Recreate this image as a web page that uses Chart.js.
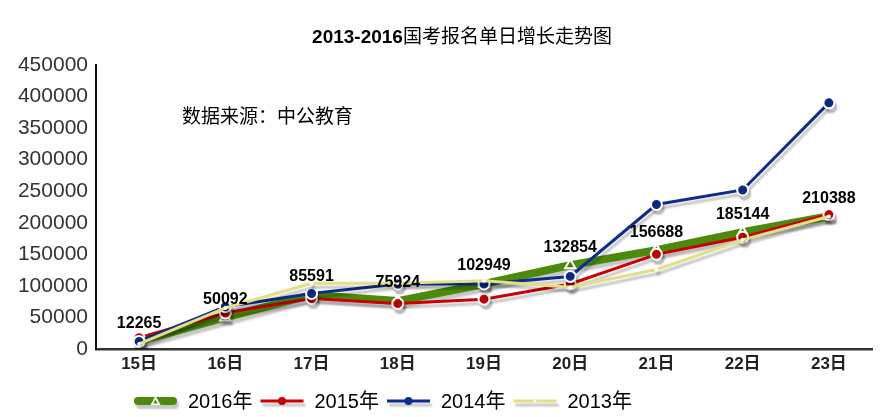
<!DOCTYPE html>
<html>
<head>
<meta charset="utf-8">
<script src="https://cdn.jsdelivr.net/npm/chart.js@4/dist/chart.umd.min.js"></script>
<style>
  html, body { margin: 0; padding: 0; background: #fff; }
  #wrap { width: 894px; height: 417px; }
</style>
</head>
<body>
<div id="wrap"><canvas id="chart" width="894" height="417"></canvas></div>
<script>
// data
const days = ['15日', '16日', '17日', '18日', '19日', '20日', '21日', '22日', '23日'];
const y2016 = [12265, 50092, 85591, 75924, 102949, 132854, 156688, 185144, 210388];
const y2015 = [18000, 57000, 80000, 72000, 79000, 103000, 150000, 177000, 213000];
const y2014 = [12000, 67000, 88000, 103000, 103000, 115000, 229000, 252000, 390000];
const y2013 = [8000, 65000, 104000, 104000, 108000, 98000, 126000, 173000, 210000];
const seriesNames = ['2016年', '2015年', '2014年', '2013年'];
const yTicks = [0, 50000, 100000, 150000, 200000, 250000, 300000, 350000, 400000, 450000];

const titleYears = '2013-2016';
const titleRest = '国考报名单日增长走势图';
const sourceText = '数据来源：中公教育';

const GREEN = '#4b8a0a', RED = '#cc0000', BLUE = '#0b2d8c', YELLOW = '#e2df84';
const LATIN = '"Liberation Sans", Arial, "Noto Sans CJK SC", sans-serif';

// grey drop shadow under every line and marker
const shadowPlugin = {
    id: 'shadow',
    beforeDatasetDraw(chart) {
        let ctx = chart.ctx;
        ctx.save();
        ctx.shadowColor = 'rgba(0,0,0,0.22)';
        ctx.shadowOffsetX = 2;
        ctx.shadowOffsetY = 4;
        ctx.shadowBlur = 2;
    },
    afterDatasetDraw(chart) {
        chart.ctx.restore();
    }
};

// title, source note, value labels and legend
const decorPlugin = {
    id: 'decor',
    afterDraw(chart) {
        let ctx = chart.ctx;
        let area = chart.chartArea;
        ctx.save();

        // title: bold years, regular chinese
        ctx.fillStyle = '#000';
        ctx.textBaseline = 'middle';
        ctx.textAlign = 'left';
        let boldFont = 'bold 19px ' + LATIN;
        let normFont = '19px ' + LATIN;
        ctx.font = boldFont;
        let w1 = ctx.measureText(titleYears).width;
        ctx.font = normFont;
        let w2 = ctx.measureText(titleRest).width;
        let tx = 462 - (w1 + w2) / 2;
        ctx.font = boldFont;
        ctx.fillText(titleYears, tx, 38);
        ctx.font = normFont;
        ctx.fillText(titleRest, tx + w1, 38);

        // source note
        ctx.font = '19px ' + LATIN;
        ctx.fillText(sourceText, area.left + 86, 118);

        // values of 2016 above its points
        let meta = chart.getDatasetMeta(0);
        ctx.textAlign = 'center';
        ctx.font = 'bold 16px "Liberation Sans", Arial, sans-serif';
        meta.data.forEach((pt, i) => {
            ctx.fillText(String(y2016[i]), pt.x, pt.y - 18);
        });

        // legend
        let ly = 401;
        let startX = 134;
        let step = 126.5;
        chart.data.datasets.forEach((ds, i) => {
            let x0 = startX + i * step;
            let x1 = x0 + 43;
            let xm = (x0 + x1) / 2;
            ctx.save();
            ctx.shadowColor = 'rgba(0,0,0,0.22)';
            ctx.shadowOffsetX = 2;
            ctx.shadowOffsetY = 4;
            ctx.shadowBlur = 2;
            ctx.strokeStyle = ds.borderColor;
            ctx.lineWidth = ds.borderWidth;
            ctx.lineCap = i === 0 ? 'round' : 'butt';
            ctx.beginPath();
            ctx.moveTo(x0 + (i === 0 ? 4 : 0), ly);
            ctx.lineTo(x1 - (i === 0 ? 4 : 0), ly);
            ctx.stroke();
            ctx.restore();
            if (i === 0) {
                ctx.fillStyle = '#fff';
                ctx.beginPath();
                ctx.moveTo(xm, ly - 5);
                ctx.lineTo(xm + 5, ly + 4);
                ctx.lineTo(xm - 5, ly + 4);
                ctx.closePath();
                ctx.fill();
                ctx.fillStyle = GREEN;
                ctx.beginPath();
                ctx.moveTo(xm, ly - 1.5);
                ctx.lineTo(xm + 2.3, ly + 2.5);
                ctx.lineTo(xm - 2.3, ly + 2.5);
                ctx.closePath();
                ctx.fill();
            } else if (i === 3) {
                ctx.fillStyle = '#fff';
                ctx.beginPath();
                ctx.arc(xm, ly, 1.5, 0, Math.PI * 2);
                ctx.fill();
            } else {
                ctx.fillStyle = ds.borderColor;
                ctx.beginPath();
                ctx.arc(xm, ly, 4, 0, Math.PI * 2);
                ctx.fill();
            }
            ctx.fillStyle = '#000';
            ctx.textAlign = 'left';
            ctx.font = '20px ' + LATIN;
            ctx.fillText(seriesNames[i], x1 + 11, ly + 1);
        });

        ctx.restore();
    }
};

new Chart(document.getElementById('chart'), {
    type: 'line',
    data: {
        labels: days,
        datasets: [
            {
                label: seriesNames[0], data: y2016, order: 4,
                borderColor: GREEN, borderWidth: 8,
                pointStyle: 'triangle', pointRadius: 6,
                pointBackgroundColor: GREEN, pointBorderColor: '#fff', pointBorderWidth: 2
            },
            {
                label: seriesNames[1], data: y2015, order: 3,
                borderColor: RED, borderWidth: 3,
                pointRadius: 5.5, pointBackgroundColor: RED,
                pointBorderColor: '#fff', pointBorderWidth: 2
            },
            {
                label: seriesNames[2], data: y2014, order: 2,
                borderColor: BLUE, borderWidth: 3,
                pointRadius: 5.5, pointBackgroundColor: BLUE,
                pointBorderColor: '#fff', pointBorderWidth: 2
            },
            {
                label: seriesNames[3], data: y2013, order: 1,
                borderColor: YELLOW, borderWidth: 3,
                pointRadius: 2, pointBackgroundColor: '#fff',
                pointBorderColor: '#fff', pointBorderWidth: 0
            }
        ]
    },
    options: {
        responsive: false,
        animation: false,
        events: [],
        layout: { padding: { top: 65, right: 22, left: 0, bottom: 0 } },
        plugins: {
            legend: { display: false },
            title: { display: false },
            tooltip: { enabled: false }
        },
        scales: {
            x: {
                offset: true,
                grid: { display: false, drawTicks: false },
                border: { display: true, color: '#333', width: 2.5 },
                ticks: {
                    color: '#222',
                    padding: 5,
                    font: { family: LATIN, size: 17, weight: 'bold' }
                },
                afterFit(scale) { scale.height = 68; }
            },
            y: {
                min: 0,
                max: 450000,
                grid: { display: false, drawTicks: false },
                border: { display: true, color: '#111', width: 2 },
                afterBuildTicks(scale) {
                    scale.ticks = yTicks.map(v => ({ value: v }));
                },
                ticks: {
                    color: '#333',
                    padding: 8,
                    callback: v => String(v),
                    font: { family: '"Liberation Sans", Arial, sans-serif', size: 21 }
                },
                afterFit(scale) { scale.width = 96; }
            }
        }
    },
    plugins: [shadowPlugin, decorPlugin]
});
</script>
</body>
</html>
